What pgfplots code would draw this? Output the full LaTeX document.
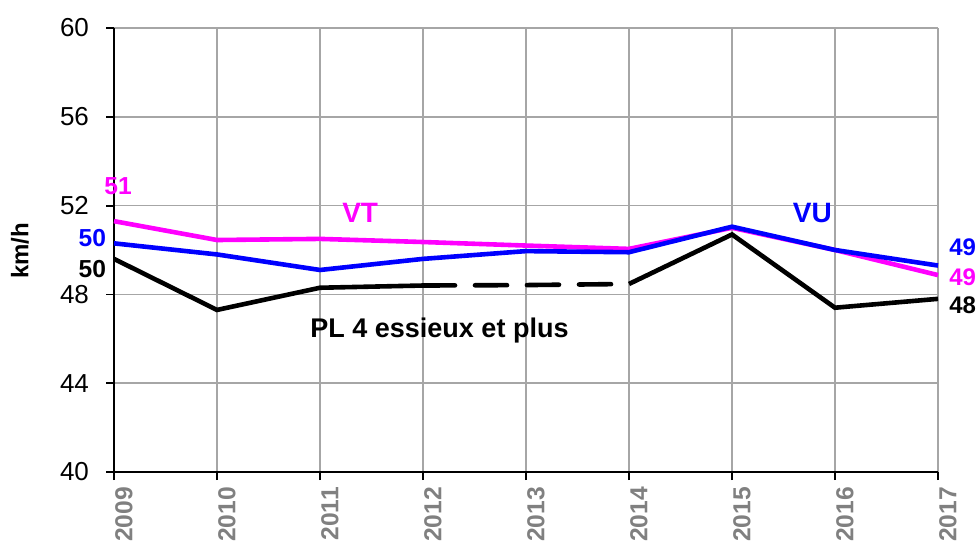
\documentclass[border=0pt]{standalone}
\usepackage{pgfplots}
\pgfplotsset{compat=1.18}
\usepackage{fontspec}
\setmainfont{Liberation Sans}
\definecolor{vt}{RGB}{255,0,255}
\definecolor{vu}{RGB}{0,0,255}
\definecolor{gridc}{RGB}{166,166,166}
\definecolor{yearc}{RGB}{128,128,128}
\begin{document}
\begin{tikzpicture}
\begin{axis}[
  name=ax,
  scale only axis,
  width=412pt, height=222pt,
  xmin=2009, xmax=2017, ymin=40, ymax=60,
  xtick={2009,...,2017},
  ytick={40,44,...,60},
  axis x line*=bottom, axis y line*=left,
  axis line style={black, line width=0.9pt, -},
  tick style={black, line width=0.9pt},
  tick align=outside,
  major tick length=4pt,
  grid=major,
  major grid style={gridc, line width=0.8pt},
  clip=false,
  /pgf/number format/assume math mode=true,
  xticklabel={\pgfmathprintnumber[1000 sep={}]{\tick}},
  xticklabel style={rotate=90, anchor=east, yshift=-5pt, font=\fontsize{12.3}{14}\selectfont\bfseries, text=yearc},
  yticklabel style={xshift=-5pt, font=\fontsize{13}{15}\selectfont},
]
% VT
\addplot[vt, line width=2.3pt] coordinates {
 (2009,51.3) (2010,50.45) (2011,50.5) (2012,50.36) (2013,50.2) (2014,50.05) (2015,51.0) (2016,50.0) (2017,48.87)};
% VU
\addplot[vu, line width=2.3pt] coordinates {
 (2009,50.3) (2010,49.8) (2011,49.1) (2012,49.6) (2013,49.95) (2014,49.9) (2015,51.05) (2016,50.0) (2017,49.3)};
% PL
\addplot[black, line width=2.3pt] coordinates {
 (2009,49.6) (2010,47.3) (2011,48.3) (2012,48.4)};
\addplot[black, line width=2.3pt, line cap=round, dash pattern=on 16pt off 10pt] coordinates {
 (2012,48.4) (2013,48.42) (2014,48.47)};
\addplot[black, line width=2.3pt] coordinates {
 (2014,48.47) (2015,50.7) (2016,47.4) (2017,47.8)};
% labels
\node[rotate=90, font=\fontsize{12}{14}\selectfont\bfseries] at ([xshift=-47pt]rel axis cs:0,0.498) {km/h};
\node[anchor=base, text=vt, font=\fontsize{12.3}{14}\selectfont\bfseries] at (axis cs:2009.04,52.52) {51};
\node[anchor=base, text=vu, font=\fontsize{12.3}{14}\selectfont\bfseries] at (axis cs:2008.79,50.18) {50};
\node[anchor=base, text=black, font=\fontsize{12.3}{14}\selectfont\bfseries] at (axis cs:2008.79,48.74) {50};
\node[anchor=base, text=vt, font=\fontsize{14}{16}\selectfont\bfseries] at (axis cs:2011.39,51.26) {VT};
\node[anchor=base, text=vu, font=\fontsize{14}{16}\selectfont\bfseries] at (axis cs:2015.78,51.22) {VU};
\node[anchor=base, text=vu, font=\fontsize{12}{14}\selectfont\bfseries] at (axis cs:2017.24,49.77) {49};
\node[anchor=base, text=vt, font=\fontsize{12}{14}\selectfont\bfseries] at (axis cs:2017.24,48.42) {49};
\node[anchor=base, text=black, font=\fontsize{12}{14}\selectfont\bfseries] at (axis cs:2017.24,47.16) {48};
\node[anchor=base, text=black, font=\fontsize{13.5}{16}\selectfont\bfseries] at (axis cs:2012.16,46.08) {PL 4 essieux et plus};
\end{axis}
\pgfresetboundingbox
\path[use as bounding box] ([xshift=-57pt,yshift=-37pt]ax.south west) rectangle ([xshift=20.5pt,yshift=14pt]ax.north east);
\end{tikzpicture}
\end{document}
